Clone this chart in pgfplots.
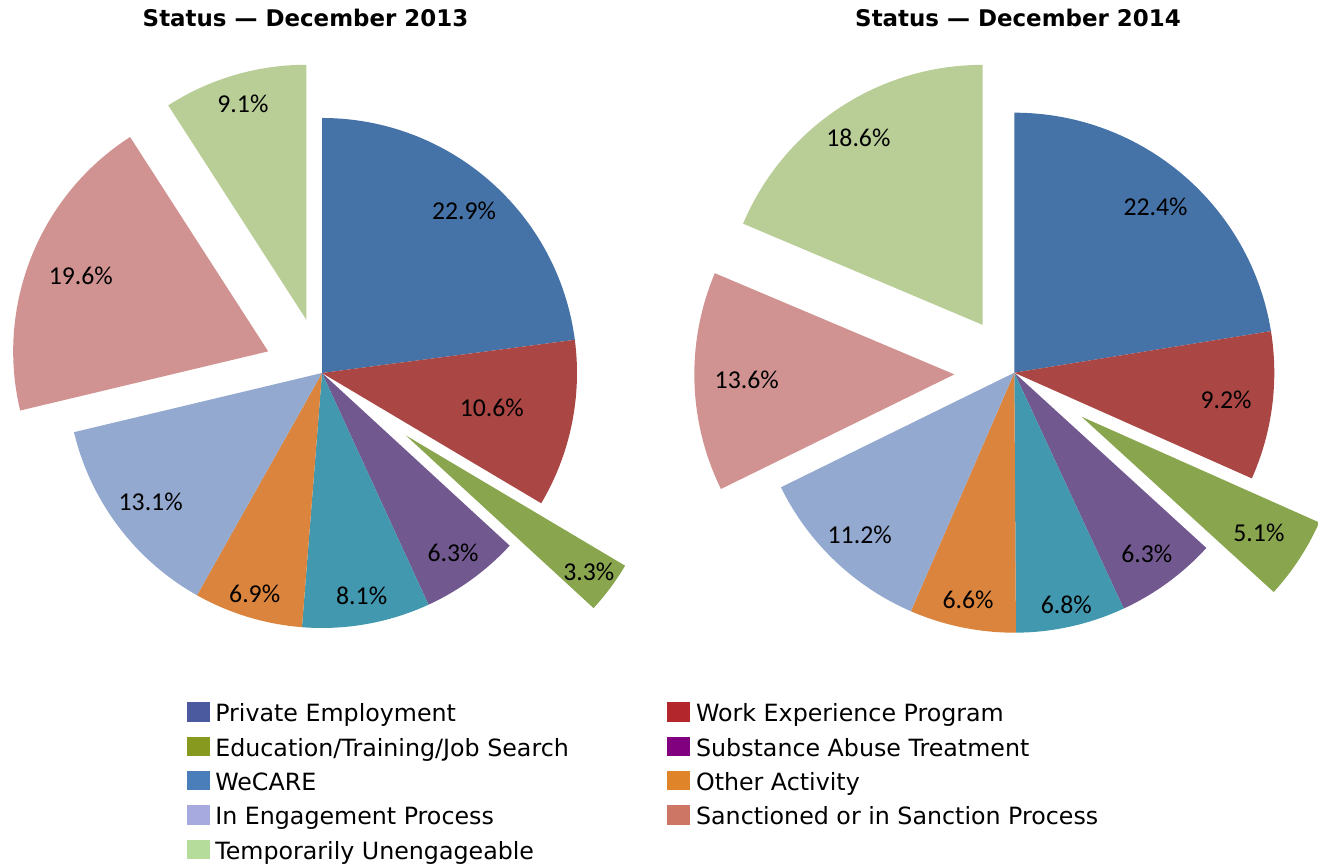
\documentclass[border=0pt]{standalone}
\usepackage{pgfplots}
\pgfplotsset{compat=1.18}
\usepackage{pgfplotstable}
\usepackage{fontspec}
\setmainfont{DejaVu Sans}
\newfontfamily\carlito{Carlito}

% pie slice colours
\definecolor{s0}{HTML}{4572A7}
\definecolor{s1}{HTML}{AA4643}
\definecolor{s2}{HTML}{89A54E}
\definecolor{s3}{HTML}{71588F}
\definecolor{s4}{HTML}{4198AF}
\definecolor{s5}{HTML}{DB843D}
\definecolor{s6}{HTML}{93A9CF}
\definecolor{s7}{HTML}{D19392}
\definecolor{s8}{HTML}{B9CD96}
% legend colours
\definecolor{l0}{HTML}{4B5A9F}
\definecolor{l1}{HTML}{B3262B}
\definecolor{l2}{HTML}{879A1F}
\definecolor{l3}{HTML}{800080}
\definecolor{l4}{HTML}{4A7EBB}
\definecolor{l5}{HTML}{DF8429}
\definecolor{l6}{HTML}{A6AADE}
\definecolor{l7}{HTML}{CE7665}
\definecolor{l8}{HTML}{B6DC9C}

% val = percentage, expl = explosion (px), labr = label distance (px)
\pgfplotstableread{
val  expl  labr
22.9 0     215.5
10.6 0     173.4
3.3  104.6 228
6.3  0     222.8
8.1  0     226.4
6.9  0     231
13.1 0     214.6
19.6 58    201.9
9.1  55.5  224.7
}\leftpie

\pgfplotstableread{
val  expl  labr
22.4 0     217.9
9.2  0     213.5
5.1  80.5  211.8
6.3  0     224.1
6.8  0     238
6.6  0     231.4
11.2 0     224
13.6 60    207.7
18.6 57.4  224.7
}\rightpie

\newcommand\labfont{\carlito\fontsize{19.3pt}{22pt}\selectfont}
\newcommand\legfont{\fontsize{17.8pt}{20pt}\selectfont}
\newcommand\titlefont{\fontsize{17.2pt}{20pt}\selectfont\bfseries}

\gdef\piecmds{}
\gdef\labcmds{}
\newcommand\buildpie[4]{% table, cx, cy, r (px)
  \def\total{0}%
  \pgfplotsforeachungrouped \k in {0,...,8}{%
    \pgfplotstablegetelem{\k}{val}\of{#1}%
    \pgfmathsetmacro\total{\total+\pgfplotsretval}%
  }%
  \pgfmathsetmacro\fac{360/\total}%
  \def\cum{0}%
  \pgfmathsetmacro\rr{#4*0.75}%
  \pgfplotsforeachungrouped \k in {0,...,8}{%
    \pgfplotstablegetelem{\k}{val}\of{#1}\let\val\pgfplotsretval
    \pgfplotstablegetelem{\k}{expl}\of{#1}\let\ex\pgfplotsretval
    \pgfplotstablegetelem{\k}{labr}\of{#1}\let\lr\pgfplotsretval
    \pgfmathsetmacro\aone{90-\fac*\cum}%
    \pgfmathsetmacro\cum{\cum+\val}%
    \pgfmathsetmacro\atwo{90-\fac*\cum}%
    \pgfmathsetmacro\amid{(\aone+\atwo)/2}%
    \pgfmathsetmacro\ox{#2+\ex*cos(\amid)}%
    \pgfmathsetmacro\oy{#3+\ex*sin(\amid)}%
    \pgfmathsetmacro\lx{\ox+\lr*cos(\amid)}%
    \pgfmathsetmacro\ly{\oy+\lr*sin(\amid)}%
    \xdef\piecmds{\unexpanded\expandafter{\piecmds}%
      \noexpand\fill[s\k] (axis cs:\ox,\oy) -- ++(\aone:\rr pt)
        arc[start angle=\aone, end angle=\atwo, radius=\rr pt] -- cycle;}%
    \xdef\labcmds{\unexpanded\expandafter{\labcmds}%
      \noexpand\node[font=\noexpand\labfont] at (axis cs:\lx,\ly) {\val\noexpand\%};}%
  }%
}
\buildpie{\leftpie}{322}{494}{255}
\buildpie{\rightpie}{1014.3}{494.3}{260}

\begin{document}
\begin{tikzpicture}
\begin{axis}[
  x=0.75pt, y=0.75pt, xmin=0, xmax=1318, ymin=0, ymax=867,
  hide axis, clip=false,
  legend columns=2,
  legend image code/.code={\fill[#1] (0pt,0pt) rectangle (17pt,14.5pt);},
  legend style={at={(axis cs:187.3,164.7)}, anchor=north west,
    draw=none, fill=none, inner sep=0pt, outer sep=0pt,
    row sep=7.3pt, font=\legfont,
    nodes={inner sep=0pt, text height=14pt, text depth=4pt},
    cells={anchor=base west},
    /tikz/column 1/.style={column sep=4pt},
    /tikz/column 2/.style={column sep=74pt},
    /tikz/column 3/.style={column sep=4.5pt}},
]
\coordinate (bbA) at (axis cs:0,0);
\coordinate (bbB) at (axis cs:1318,867);
\piecmds
\labcmds
\node[font=\titlefont, anchor=base] at (axis cs:305.5,840.3) {Status — December 2013};
\node[font=\titlefont, anchor=base] at (axis cs:1018,840.3) {Status — December 2014};

\addlegendimage{fill=l0, draw=none}\addlegendentry{Private Employment}
\addlegendimage{fill=l1, draw=none}\addlegendentry{Work Experience Program}
\addlegendimage{fill=l2, draw=none}\addlegendentry{Education/Training/Job Search}
\addlegendimage{fill=l3, draw=none}\addlegendentry{Substance Abuse Treatment}
\addlegendimage{fill=l4, draw=none}\addlegendentry{WeCARE}
\addlegendimage{fill=l5, draw=none}\addlegendentry{Other Activity}
\addlegendimage{fill=l6, draw=none}\addlegendentry{In Engagement Process}
\addlegendimage{fill=l7, draw=none}\addlegendentry{Sanctioned or in Sanction Process}
\addlegendimage{fill=l8, draw=none}\addlegendentry{Temporarily Unengageable}
\end{axis}
\pgfresetboundingbox
\path (bbA) rectangle (bbB);
\end{tikzpicture}
\end{document}
